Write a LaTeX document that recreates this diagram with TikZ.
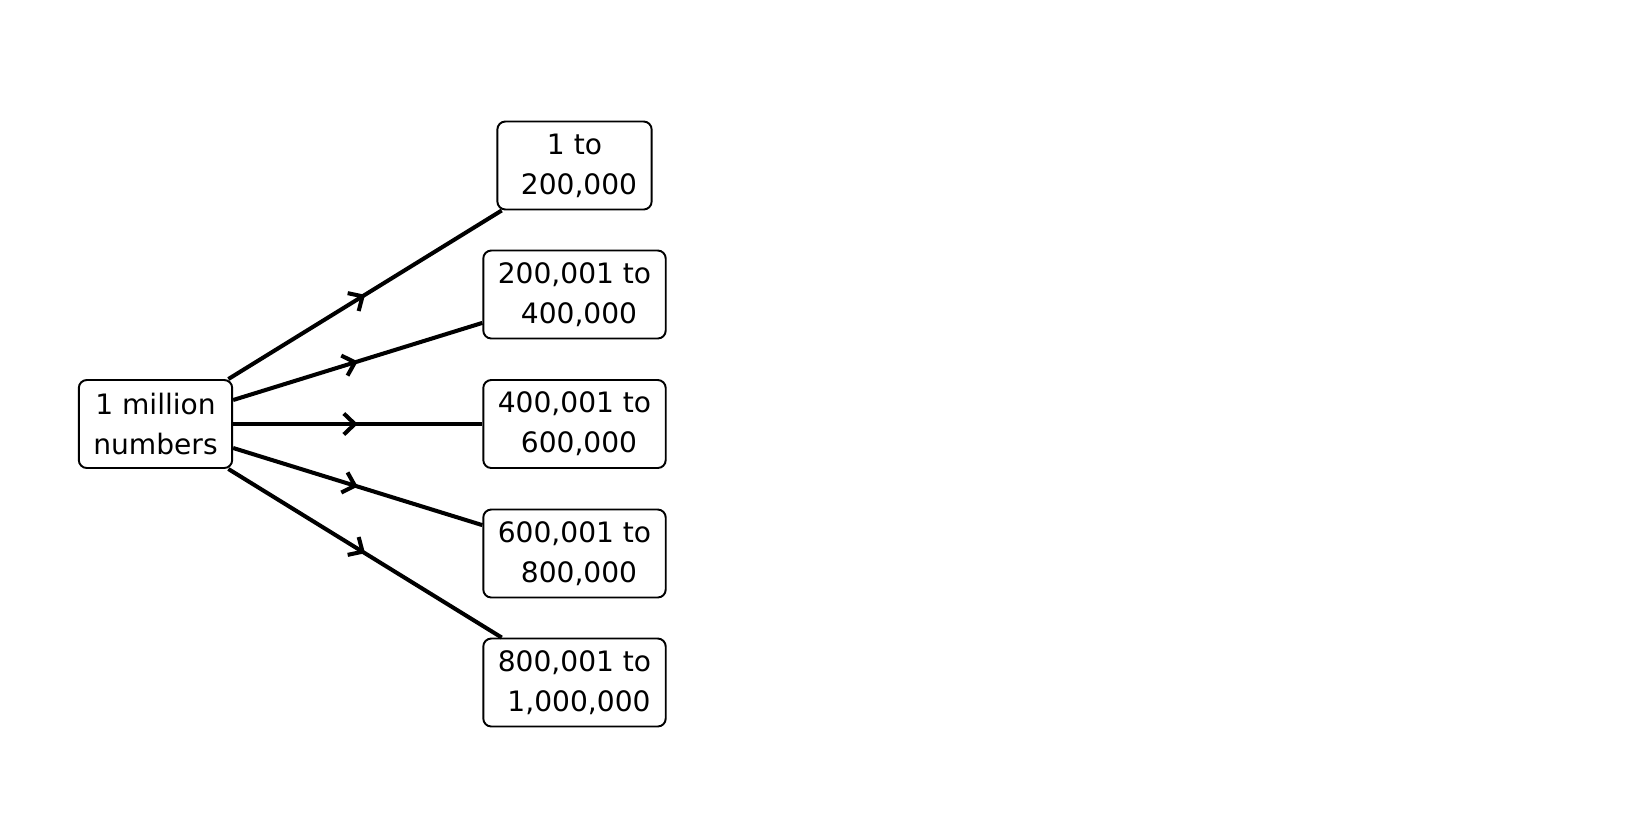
\documentclass[tikz,border=0pt]{standalone}
\usepackage{fontspec}
\setmainfont{DejaVu Sans}
\usepackage{tikz}
\usetikzlibrary{positioning,calc,arrows.meta,decorations.markings}

\begin{document}
\begin{tikzpicture}[auto,
                main node/.style={rectangle,draw,line width=1.1pt,rounded corners=0.16cm,
                  align=center,inner xsep=0.29cm,inner ysep=0pt,minimum height=1.76cm,
                  font=\fontsize{16}{22.8}\selectfont},
                split/.style={line width=2.3pt,postaction={decorate},
                  decoration={markings,mark=at position 0.5 with {\arrow{Straight Barb[length=0.22cm,width=0.42cm,line width=2.3pt]}}}}]
    \useasboundingbox (0,0) rectangle (33,-16.5);
%Nodes
    \node[main node] (All) at (3.11,-8.48) {1 million\\numbers};
    \node[main node] (R1) at (11.49,-3.31) {1 to\\\hspace*{0.32em}200,000};
    \node[main node] (R2) at (11.49,-5.89) {200,001 to\\\hspace*{0.32em}400,000};
    \node[main node] (R3) at (11.49,-8.48) {400,001 to\\\hspace*{0.32em}600,000};
    \node[main node] (R4) at (11.49,-11.07) {600,001 to\\\hspace*{0.32em}800,000};
    \node[main node] (R5) at (11.49,-13.65) {800,001 to\\\hspace*{0.32em}1,000,000};

    \draw[split] (All) -- (R1);
    \draw[split] (All) -- (R2);
    \draw[split] (All) -- (R3);
    \draw[split] (All) -- (R4);
    \draw[split] (All) -- (R5);
\end{tikzpicture}
\end{document}
